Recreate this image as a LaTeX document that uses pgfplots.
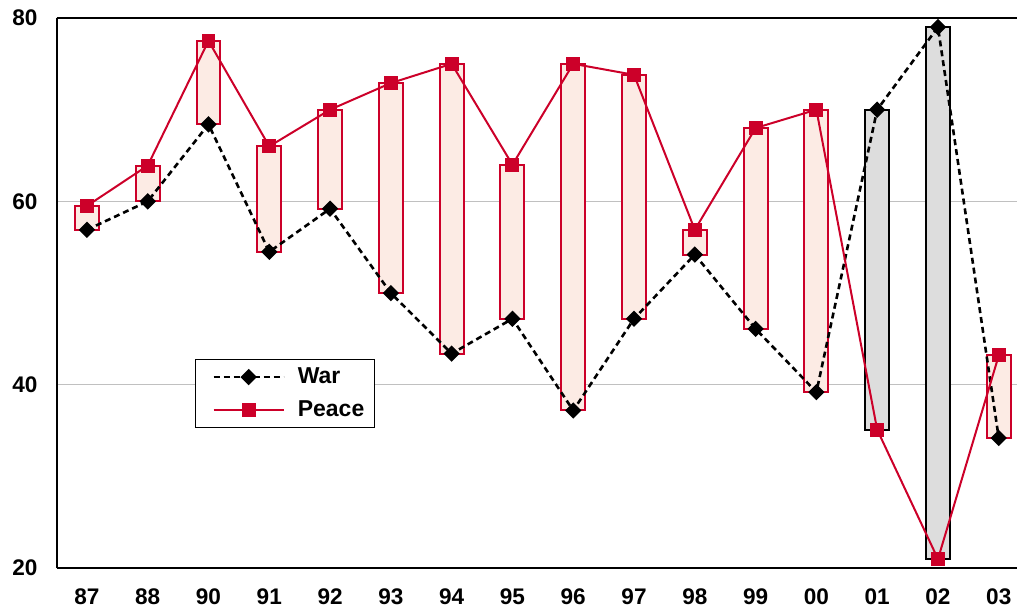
\documentclass[border=0pt]{standalone}
\usepackage{fontspec}
\setmainfont{Liberation Sans}
\usepackage{pgfplots}
\usepackage{pgfplotstable}
\pgfplotsset{compat=1.18}

\definecolor{peacered}{RGB}{204,0,41}
\definecolor{peacefill}{RGB}{252,235,228}
\definecolor{warfill}{RGB}{221,221,221}
\definecolor{gridgray}{RGB}{192,192,192}

% idx: position of the year on the x axis
\pgfplotstableread{
idx war peace
0  56.9 59.5
1  60.0 63.9
2  68.4 77.5
3  54.5 66.0
4  59.2 70.0
5  50.0 72.9
6  43.4 75.0
7  47.2 64.0
8  37.2 75.0
9  47.2 73.8
10 54.2 56.9
11 46.1 68.0
12 39.2 70.0
13 70.0 35.1
14 79.0 21.0
15 34.2 43.2
}\polls

\pgfplotsset{
  chartbase/.style={
    width=480.9pt, height=275.5pt, scale only axis,
    xmin=-0.5, xmax=15.3, ymin=20, ymax=80,
    enlargelimits=false,
  },
  onlywar/.style={skip coords between index={0}{13}, skip coords between index={15}{16}},
}

\begin{document}
\begin{tikzpicture}
% background: grid, axes, peace-above bars
\begin{axis}[
  chartbase, name=A,
  ybar stacked, bar width=12pt,
  axis lines*=left,
  axis line style={line width=1pt},
  ytick={20,40,60,80},
  xtick={0,...,15},
  xticklabels={87,88,90,91,92,93,94,95,96,97,98,99,00,01,02,03},
  ymajorgrids,
  grid style={gridgray, line width=0.5pt},
  major tick length=0pt,
  tick label style={font=\bfseries\fontsize{11.3}{13}\selectfont},
  xticklabel style={yshift=-7pt},
  yticklabel style={xshift=-6pt},
  /pgf/number format/assume math mode=true,
]
\addplot[draw=none, fill=none, skip coords between index={13}{15}]
  table[x=idx, y=war] {\polls};
\addplot[fill=peacefill, draw=peacered, line width=1pt, skip coords between index={13}{15}]
  table[x=idx, y expr=\thisrow{peace}-\thisrow{war}] {\polls};
\end{axis}

% war-above bars
\begin{axis}[
  chartbase, hide axis,
  ybar stacked, bar width=12pt,
]
\addplot[draw=none, fill=none, onlywar]
  table[x=idx, y=peace] {\polls};
\addplot[fill=warfill, draw=black, line width=1pt, onlywar]
  table[x=idx, y expr=\thisrow{war}-\thisrow{peace}] {\polls};
\end{axis}

% lines, top frame, legend
\begin{axis}[
  chartbase,
  axis x line*=top, axis y line=none,
  axis line style={line width=1pt},
  xtick=\empty, ytick=\empty,
  legend style={
    at={(0.144,0.38)}, anchor=north west,
    draw=black, line width=0.6pt,
    font=\bfseries\fontsize{11.5}{14}\selectfont,
    inner xsep=3pt, inner ysep=2pt,
    row sep=3pt,
  },
  legend cell align=left,
  legend image code/.code={
    \path (-5.5pt,0pt) (39.5pt,0pt);
    \draw[mark repeat=2, mark phase=2, #1]
      plot coordinates {(0pt,0pt) (17.5pt,0pt) (35pt,0pt)};
  },
]
\addplot[black, line width=1.3pt, dash pattern=on 3pt off 2pt,
  mark=square*, mark size=2.25pt, mark options={solid, fill=black, rotate=45}]
  table[x=idx, y=war] {\polls};
\addlegendentry{War}
\addplot[peacered, line width=1pt,
  mark=square*, mark size=3pt, mark options={solid, fill=peacered}]
  table[x=idx, y=peace] {\polls};
\addlegendentry{Peace}
\end{axis}

\path (A.south west) ++(-28.3pt,-20.5pt);
\path (A.north east) ++(0pt,9pt);
\end{tikzpicture}
\end{document}
